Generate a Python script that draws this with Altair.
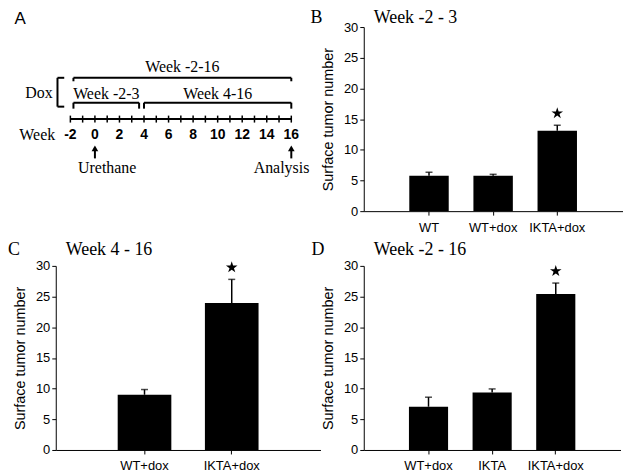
import altair as alt
import pandas as pd

SERIF = "Liberation Serif"
SANS = "Liberation Sans"

# ---------------- Panel A : experimental time line ----------------
timeline_weeks = list(range(-2, 17))
week_label_values = [-2, 0, 2, 4, 6, 8, 10, 12, 14, 16]

bracket_labels = ["Week -2-16", "Week -2-3", "Week 4-16"]
bracket_start = [-1.75, -1.75, 4.0]
bracket_end = [16.0, 3.6, 16.0]
bracket_level = [51, 76, 76]
bracket_hook = [3.5, 6, 6]
bracket_label_level = [40, 67, 67]

dox_bracket_x = [-3.05, -2.5]
dox_bracket_levels = [51, 80]

row_label_text = ["Dox", "Week"]
row_label_week = [-4.55, -4.7]
row_label_level = [66, 109]

event_labels = ["Urethane", "Analysis"]
event_weeks = [0, 16]
event_label_week = [1.0, 15.2]

timeline_level = 92.3
tick_levels = [89, 96]
week_label_level = 109
arrow_levels = [132, 122]
event_label_level = 142
panel_letter_pos = [-6.1, -7.7]

# ---------------- Panels B, C, D : bar charts ----------------
b_groups = ["WT", "WT+dox", "IKTA+dox"]
b_means = [5.75, 5.75, 13.1]
b_errors = [0.6, 0.25, 0.9]
b_signif = [False, False, True]

c_groups = ["WT+dox", "IKTA+dox"]
c_means = [9.0, 23.95]
c_errors = [0.85, 3.85]
c_signif = [False, True]

d_groups = ["WT+dox", "IKTA", "IKTA+dox"]
d_means = [7.05, 9.35, 25.4]
d_errors = [1.55, 0.6, 1.8]
d_signif = [False, False, True]

y_ticks = [0, 5, 10, 15, 20, 25, 30]

STAR = ("M0,-1L0.2245,-0.309L0.951,-0.309L0.363,0.118L0.588,0.809L0,0.382"
        "L-0.588,0.809L-0.363,0.118L-0.951,-0.309L-0.2245,-0.309Z")

# ---------- build panel A ----------
A_W, A_H = 250, 185
xs = alt.Scale(domain=[-3.19, 17.08], nice=False, zero=False)
ys = alt.Scale(domain=[0, A_H], reverse=True, nice=False, zero=False)


def X(f):
    return alt.X(f, type="quantitative", scale=xs, axis=None)


def Y(f):
    return alt.Y(f, type="quantitative", scale=ys, axis=None)


segs = []
for s, e, lv, h in zip(bracket_start, bracket_end, bracket_level, bracket_hook):
    segs.append({"x": s, "x2": e, "y": lv, "y2": lv})
    segs.append({"x": s, "x2": s, "y": lv, "y2": lv + h})
    segs.append({"x": e, "x2": e, "y": lv, "y2": lv + h})
segs.append({"x": dox_bracket_x[0], "x2": dox_bracket_x[0],
             "y": dox_bracket_levels[0], "y2": dox_bracket_levels[1]})
for lv in dox_bracket_levels:
    segs.append({"x": dox_bracket_x[0], "x2": dox_bracket_x[1], "y": lv, "y2": lv})
seg_df = pd.DataFrame(segs)

seg_layer = alt.Chart(seg_df).mark_rule(color="black", strokeWidth=2).encode(
    x=X("x"), x2="x2", y=Y("y"), y2="y2")

line_df = pd.DataFrame({"x": [timeline_weeks[0]], "x2": [timeline_weeks[-1]],
                        "y": [timeline_level]})
line_layer = alt.Chart(line_df).mark_rule(color="black", strokeWidth=2).encode(
    x=X("x"), x2="x2", y=Y("y"))

tick_df = pd.DataFrame({"w": timeline_weeks, "y": tick_levels[0], "y2": tick_levels[1]})
tick_layer = alt.Chart(tick_df).mark_rule(color="black", strokeWidth=1.5).encode(
    x=X("w"), y=Y("y"), y2="y2")

wl_df = pd.DataFrame({"w": week_label_values, "y": week_label_level,
                      "t": [str(v) for v in week_label_values]})
wl_layer = alt.Chart(wl_df).mark_text(font=SANS, fontSize=14, fontWeight="bold",
                                      color="black", baseline="middle").encode(
    x=X("w"), y=Y("y"), text="t:N")

bl_df = pd.DataFrame({"w": [(s + e) / 2 for s, e in zip(bracket_start, bracket_end)],
                      "y": bracket_label_level, "t": bracket_labels})
bl_layer = alt.Chart(bl_df).mark_text(font=SERIF, fontSize=16, color="black",
                                      baseline="middle").encode(
    x=X("w"), y=Y("y"), text="t:N")

rl_df = pd.DataFrame({"w": row_label_week, "y": row_label_level, "t": row_label_text})
rl_layer = alt.Chart(rl_df).mark_text(font=SERIF, fontSize=16, color="black",
                                      baseline="middle").encode(
    x=X("w"), y=Y("y"), text="t:N")

arr_df = pd.DataFrame({"w": event_weeks, "y": arrow_levels[0], "y2": arrow_levels[1]})
arr_layer = alt.Chart(arr_df).mark_rule(color="black", strokeWidth=2).encode(
    x=X("w"), y=Y("y"), y2="y2")
head_layer = alt.Chart(arr_df).mark_point(shape="triangle-up", filled=True, color="black",
                                          size=45, opacity=1).encode(
    x=X("w"), y=Y("y2"))

ev_df = pd.DataFrame({"w": event_label_week, "y": event_label_level, "t": event_labels})
ev_layer = alt.Chart(ev_df).mark_text(font=SERIF, fontSize=16, color="black",
                                      baseline="middle").encode(
    x=X("w"), y=Y("y"), text="t:N")

letter_df = pd.DataFrame({"w": [panel_letter_pos[0]], "y": [panel_letter_pos[1]], "t": ["A"]})
letter_layer = alt.Chart(letter_df).mark_text(font=SANS, fontSize=17, color="black",
                                              baseline="middle").encode(
    x=X("w"), y=Y("y"), text="t:N")

panel_a = alt.layer(seg_layer, line_layer, tick_layer, wl_layer, bl_layer, rl_layer,
                    arr_layer, head_layer, ev_layer, letter_layer).properties(
    width=A_W, height=A_H)


# ---------- bar panels ----------
def bar_panel(letter, week_title, groups, means, errors, signif, width,
              letter_dx, head_dy):
    df = pd.DataFrame({"group": groups, "mean": means,
                       "upper": [m + e for m, e in zip(means, errors)],
                       "sig": signif})
    x = alt.X("group:N", sort=groups, title=None,
              scale=alt.Scale(paddingInner=0.385, paddingOuter=0.71),
              axis=alt.Axis(labelAngle=0, labelFont=SANS, labelFontSize=13,
                            labelColor="black", tickColor="black", domainColor="black",
                            tickSize=4, labelPadding=6, grid=False, domainWidth=1))
    yax = alt.Axis(values=y_ticks, labelFont=SANS, labelFontSize=13, labelColor="black",
                   tickColor="black", domainColor="black", tickSize=4, labelPadding=2,
                   grid=False, titleFont=SANS, titleFontSize=14.5, titleFontWeight="normal",
                   titleColor="black", titlePadding=8)
    ysc = alt.Scale(domain=[0, 30], nice=False)
    ttl = "Surface tumor number"
    base = alt.Chart(df)
    bars = base.mark_bar(color="black").encode(
        x=x, y=alt.Y("mean:Q", scale=ysc, axis=yax, title=ttl))
    err = base.mark_rule(color="black", strokeWidth=1.5).encode(
        x=x, y=alt.Y("mean:Q", scale=ysc, axis=yax, title=ttl), y2="upper:Q")
    cap = base.mark_tick(color="black", size=7, thickness=1.5).encode(
        x=x, y=alt.Y("upper:Q", scale=ysc, axis=yax, title=ttl))
    star = base.transform_filter(alt.datum.sig).mark_point(
        shape=STAR, filled=True, color="black", size=150, opacity=1, yOffset=-12).encode(
        x=x, y=alt.Y("upper:Q", scale=ysc, axis=yax, title=ttl))
    tag = alt.Chart(pd.DataFrame({"t": [letter]})).mark_text(
        font=SERIF, fontSize=18, color="black", align="left", baseline="middle").encode(
        x=alt.value(letter_dx), y=alt.value(head_dy), text="t:N")
    head = alt.Chart(pd.DataFrame({"t": [week_title]})).mark_text(
        font=SERIF, fontSize=18, color="black", align="left", baseline="middle").encode(
        x=alt.value(10), y=alt.value(head_dy), text="t:N")
    return alt.layer(bars, err, cap, star, tag, head).properties(width=width, height=185)


panel_b = bar_panel("B", "Week -2 - 3", b_groups, b_means, b_errors, b_signif, 260,
                    -53.5, -9)
panel_c = bar_panel("C", "Week 4 - 16", c_groups, c_means, c_errors, c_signif, 266,
                    -48, -16)
panel_d = bar_panel("D", "Week -2 - 16", d_groups, d_means, d_errors, d_signif, 258,
                    -52.5, -16)

chart = alt.concat(panel_a, panel_b, panel_c, panel_d, columns=2,
                   spacing={"row": 55, "column": 43.5}, bounds="flush").properties(
    padding=0, background="white").configure_view(stroke=None)

chart.save("out.html", embed_options={"renderer": "svg", "actions": False})
